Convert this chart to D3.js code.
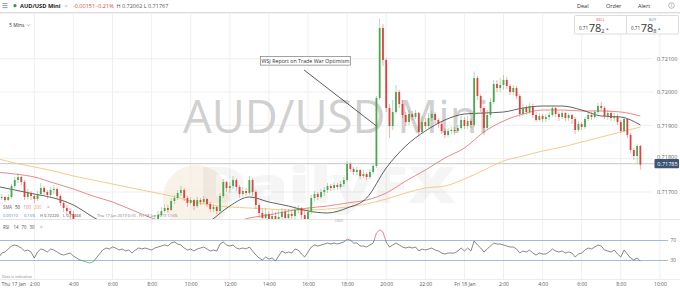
<!DOCTYPE html>
<html><head><meta charset="utf-8">
<script src="https://cdn.jsdelivr.net/npm/d3@7"></script>
<style>
html,body{margin:0;padding:0;background:#fff;overflow:hidden;}
svg{display:block;font-family:"Open Sans",sans-serif;}
</style></head><body>
<svg id="c" width="680" height="288"></svg>
<script>
// ---------- DATA ----------
// AUD/USD Mini, 10-minute candles from Thu 17 Jan 2019 00:10 (prices in 1/100000)
const priceUnit = 1e-5;
const candleStart = "2019-01-17T00:10";
const stepMinutes = 10;
const firstOpen = 71679;
const closes = [
71682,71685,71676,71685,71718,71736,71745,71730,71685,71697,
71688,71679,71694,71712,71700,71691,71706,71709,71688,71667,
71652,71643,71634,71610,71586,71562,71541,71520,71490,71502,
71526,71544,71556,71568,71562,71577,71568,71556,71565,71550,
71559,71553,71568,71577,71571,71586,71592,71604,71619,71631,
71643,71652,71646,71673,71682,71697,71706,71682,71667,71676,
71658,71676,71670,71679,71664,71649,71655,71643,71688,71730,
71712,71718,71736,71715,71694,71703,71697,71736,71700,71661,
71637,71622,71634,71616,71628,71613,71625,71640,71622,71634,
71628,71646,71652,71631,71619,71640,71682,71694,71685,71700,
71706,71718,71712,71721,71715,71724,71736,71784,71769,71760,
71766,71748,71754,71745,71760,71778,71982,72192,72096,71952,
71898,71940,72000,71964,71931,71910,71934,71925,71937,71880,
71910,71898,71922,71934,71916,71904,71883,71871,71883,71886,
71883,71892,71916,71898,71913,71901,72042,71988,71952,71892,
71931,71970,72024,72012,72021,72036,72018,72000,72012,71988,
71934,71952,71940,71958,71931,71916,71928,71919,71925,71931,
71952,71934,71925,71937,71922,71931,71919,71886,71904,71895,
71919,71931,71925,71940,71958,71952,71928,71937,71922,71928,
71910,71883,71919,71871,71826,71808,71838,71782];
const highs = [
71691,71694,71688,71694,71724,71745,71757,71748,71736,71709,
71703,71694,71703,71727,71718,71706,71715,71721,71712,71694,
71673,71661,71652,71643,71616,71592,71571,71550,71526,71511,
71535,71556,71568,71583,71580,71589,71586,71577,71580,71571,
71568,71571,71580,71589,71586,71598,71604,71616,71631,71643,
71655,71664,71661,71682,71691,71706,71718,71712,71688,71685,
71679,71685,71682,71688,71682,71670,71664,71658,71697,71739,
71733,71730,71748,71742,71721,71715,71712,71748,71742,71706,
71667,71649,71652,71643,71646,71640,71646,71652,71649,71649,
71646,71658,71661,71655,71643,71652,71691,71703,71700,71709,
71715,71727,71724,71730,71727,71733,71745,71793,71790,71775,
71775,71769,71766,71760,71769,71784,71988,72220,72204,72102,
71964,71976,72021,72006,71976,71940,71946,71943,71946,71940,
71928,71922,71937,71943,71940,71922,71910,71892,71892,71895,
71895,71901,71928,71925,71928,71919,72062,72048,71994,71958,
71946,71982,72036,72036,72042,72051,72045,72024,72021,72018,
71994,71964,71961,71967,71964,71940,71937,71934,71934,71940,
71958,71955,71940,71943,71940,71937,71934,71925,71913,71910,
71925,71940,71940,71946,71967,71970,71958,71946,71943,71937,
71934,71916,71928,71922,71877,71832,71844,71841];
const lows = [
71673,71676,71670,71673,71679,71712,71727,71721,71676,71679,
71676,71667,71673,71688,71691,71679,71685,71694,71679,71658,
71640,71631,71619,71598,71574,71550,71526,71502,71478,71468,
71490,71517,71535,71550,71550,71556,71556,71547,71550,71541,
71538,71544,71547,71562,71559,71565,71577,71586,71598,71613,
71628,71637,71637,71643,71664,71676,71688,71673,71655,71661,
71646,71652,71661,71664,71655,71640,71640,71634,71637,71682,
71700,71697,71709,71703,71682,71685,71688,71691,71688,71649,
71622,71604,71610,71601,71604,71598,71604,71616,71610,71613,
71613,71619,71634,71619,71607,71610,71634,71673,71676,71679,
71688,71697,71703,71706,71706,71709,71715,71730,71760,71751,
71751,71739,71742,71736,71739,71754,71772,71976,72078,71940,
71862,71886,71934,71952,71922,71898,71901,71916,71919,71868,
71874,71889,71892,71913,71904,71892,71874,71862,71865,71874,
71871,71877,71886,71889,71889,71892,71895,71976,71940,71871,
71886,71922,71964,72000,72000,72006,72009,71991,71991,71979,
71925,71928,71931,71934,71922,71910,71913,71910,71910,71916,
71925,71925,71913,71919,71913,71913,71904,71874,71880,71886,
71889,71913,71916,71919,71934,71943,71919,71916,71913,71913,
71901,71877,71877,71862,71817,71796,71784,71767];
// RSI(14), one value per candle
const rsi = [
35,45,47,53,59,61,59,55,49,51,
47,35,47,53,51,47,53,51,47,43,
41,43,45,39,35,31,29,27,25,27,
35,43,51,55,53,57,55,51,53,49,
51,45,51,55,53,55,53,51,55,57,
59,61,59,65,67,63,61,55,51,53,
49,53,55,57,53,49,51,49,63,67,
61,59,61,55,53,55,53,57,49,41,
35,31,37,33,35,29,39,49,45,47,
45,53,51,43,37,47,57,61,59,61,
63,65,63,65,63,65,67,73,71,65,
65,59,59,57,61,65,85,91,87,67,
57,61,65,61,57,55,57,55,57,49,
53,51,53,55,51,49,45,43,45,45,
45,49,55,49,55,49,69,61,55,47,
53,59,65,63,63,61,59,57,57,53,
45,49,47,51,45,41,45,43,43,47,
53,49,47,49,45,47,45,37,43,45,
51,55,53,57,61,59,51,49,47,51,
43,37,51,43,35,31,35,29];
// Simple moving averages, hourly samples from Thu 00:00
const maStart = "2019-01-17T00:00";
const sma50 = [71718,71706,71694,71682,71661,71625,71592,71562,71550,71556,71577,71613,71658,71685,71670,71658,71643,71637,71652,71682,71772,71838,71883,71916,71934,71937,71940,71952,71958,71958,71946,71928,71925,71901];
const sma100 = [71760,71754,71745,71727,71709,71688,71670,71646,71622,71601,71586,71589,71604,71622,71631,71643,71652,71658,71667,71676,71697,71733,71766,71802,71832,71880,71913,71934,71946,71946,71943,71943,71940,71928];
const sma200 = [71802,71787,71775,71763,71748,71736,71724,71712,71700,71688,71673,71661,71655,71652,71649,71646,71646,71649,71655,71664,71679,71697,71712,71718,71739,71766,71793,71808,71823,71835,71850,71865,71880,71895];
const priceTicks = [0.721, 0.720, 0.719, 0.718, 0.717];
const rsiLevels = [70, 30];
const timeTickLabels = ["Thu 17 Jan","2:00","4:00","6:00","8:00","10:00","12:00","14:00","16:00","18:00","20:00","22:00","Fri 18 Jan","2:00","4:00","6:00","8:00","10:00"];
const lastPrice = 0.71785;
const annotation = {text:"WSJ Report on Trade War Optimism", from:{t:"2019-01-17T15:48", p:0.72066}, to:{t:"2019-01-17T19:30", p:0.71898}};

// ---------- SETUP ----------
const svg = d3.select("#c");
const parse = d3.utcParse("%Y-%m-%dT%H:%M");
const tStart = parse("2019-01-17T00:00"), tEnd = parse("2019-01-18T10:00");
const x = d3.scaleUtc().domain([tStart, tEnd]).range([-4.8, 659.9]);
const y = d3.scaleLinear().domain([0.717, 0.721]).range([192, 58.67]);
const ry = d3.scaleLinear().domain([30, 70]).range([260.5, 240.5]);
const plotR = 653, mainTop = 13, mainBot = 219, rsiTop = 221, rsiBot = 279;

const cs = parse(candleStart);
const candles = closes.map((c, i) => ({
  t: d3.utcMinute.offset(cs, i * stepMinutes),
  o: (i === 0 ? firstOpen : closes[i-1]) * priceUnit,
  h: highs[i] * priceUnit, l: lows[i] * priceUnit, c: c * priceUnit, r: rsi[i]
}));
const ms = parse(maStart);
const maSeries = [
  {vals: sma200, color: "#f3c57c", w: 0.9},
  {vals: sma100, color: "#e77a80", w: 0.9},
  {vals: sma50, color: "#3a3a3a", w: 0.8}
];

const defs = svg.append("defs");
defs.append("clipPath").attr("id","mainClip").append("rect").attr("x",0).attr("y",mainTop).attr("width",plotR).attr("height",mainBot-mainTop);
defs.append("clipPath").attr("id","rsiAbove").append("rect").attr("x",0).attr("y",rsiTop).attr("width",plotR).attr("height",ry(70)-rsiTop);
defs.append("clipPath").attr("id","rsiMid").append("rect").attr("x",0).attr("y",ry(70)).attr("width",plotR).attr("height",ry(30)-ry(70));
defs.append("clipPath").attr("id","rsiBelow").append("rect").attr("x",0).attr("y",ry(30)).attr("width",plotR).attr("height",rsiBot-ry(30));

// ---------- GRID ----------
const timeTicks = d3.utcHour.every(2).range(tStart, d3.utcMinute.offset(tEnd, 1));
const grid = svg.append("g");
grid.selectAll("line.v").data(timeTicks.slice(1)).join("line").attr("class","v")
  .attr("x1", d => x(d)).attr("x2", d => x(d)).attr("y1", mainTop).attr("y2", rsiBot)
  .attr("stroke", "#efefef").attr("stroke-width", 1);
grid.selectAll("line.h").data(priceTicks).join("line").attr("class","h")
  .attr("x1", 0).attr("x2", plotR).attr("y1", d => y(d)).attr("y2", d => y(d))
  .attr("stroke", "#efefef").attr("stroke-width", 1);

// ---------- WATERMARKS ----------
const wm = svg.append("g").attr("clip-path","url(#mainClip)");
wm.append("circle").attr("cx",196).attr("cy",198).attr("r",33).attr("fill","#f7eddf").attr("opacity",0.7);
wm.append("text").attr("x",198).attr("y",203).attr("font-size",50).attr("font-weight",900)
  .attr("textLength",258).attr("lengthAdjust","spacingAndGlyphs")
  .attr("fill","#000").attr("opacity",0.035).text("DailyFX");
svg.append("text").attr("x",183).attr("y",133).attr("font-size",46).attr("fill","#d0d0d0")
  .attr("textLength",306).attr("lengthAdjust","spacingAndGlyphs")
  .text("AUD/USD Mini");

// ---------- LAST PRICE LINE ----------
svg.append("line").attr("x1",0).attr("x2",plotR+2).attr("y1",y(lastPrice)).attr("y2",y(lastPrice))
  .attr("stroke","#d2d2d2").attr("stroke-width",1.4);

// ---------- MOVING AVERAGES ----------
const main = svg.append("g").attr("clip-path","url(#mainClip)");
const maLine = d3.line().x((d,i) => x(d3.utcHour.offset(ms, i))).y(d => y(d * priceUnit)).curve(d3.curveMonotoneX);
maSeries.forEach(s => {
  main.append("path").attr("d", maLine(s.vals)).attr("fill","none")
    .attr("stroke", s.color).attr("stroke-width", s.w);
});

// ---------- CANDLES ----------
const up = "#47a94b", dn = "#e2413b";
const cg = main.append("g");
cg.selectAll("line").data(candles).join("line")
  .attr("x1", d => x(d.t)).attr("x2", d => x(d.t))
  .attr("y1", d => y(d.h)).attr("y2", d => y(d.l))
  .attr("stroke", d => d.c >= d.o ? up : dn).attr("stroke-width", 0.6).attr("opacity",0.7);
cg.selectAll("rect").data(candles).join("rect")
  .attr("x", d => x(d.t) - 0.9).attr("width", 1.8)
  .attr("y", d => y(Math.max(d.o, d.c)))
  .attr("height", d => Math.max(0.8, Math.abs(y(d.o) - y(d.c))))
  .attr("fill", d => d.c >= d.o ? up : dn);

// ---------- ANNOTATION ----------
const a0 = {x: x(parse(annotation.from.t)), y: y(annotation.from.p)};
const a1 = {x: x(parse(annotation.to.t)), y: y(annotation.to.p)};
const ann = svg.append("g");
ann.append("line").attr("x1",a0.x).attr("y1",a0.y).attr("x2",a1.x).attr("y2",a1.y)
  .attr("stroke","#333").attr("stroke-width",0.8);
const annBox = ann.append("rect");
const at = ann.append("text").attr("x",a0.x-42.5).attr("y",a0.y-7.2).attr("font-size",5.3).attr("fill","#333").text(annotation.text);
const bb = at.node().getBBox();
annBox.attr("x",bb.x-1.2).attr("y",bb.y-0.3).attr("width",bb.width+2.4).attr("height",bb.height+0.6)
  .attr("fill","#fff").attr("stroke","#666").attr("stroke-width",0.6);

// ---------- PRICE AXIS ----------
const pAxis = svg.append("g").attr("transform",`translate(${plotR+4},0)`)
  .call(d3.axisRight(y).tickValues(priceTicks).tickFormat(d3.format(".5f")).tickSize(0).tickPadding(0));
pAxis.select(".domain").remove();
pAxis.selectAll("text").attr("font-size",5.5).attr("fill","#666").attr("font-family","'Open Sans',sans-serif");
// the 0.71800 label sits partly hidden behind the last-price tag, as in the original
pAxis.selectAll("g.tick").filter(d => Math.abs(d - 0.718) < 1e-9).select("text").attr("dy","-0.05em");
const tag = svg.append("g").attr("transform",`translate(${plotR+1.5},${y(lastPrice)})`);
tag.append("rect").attr("x",0).attr("y",-4.6).attr("width",24.5).attr("height",9.2).attr("fill","#3d5473").attr("rx",0.8);
tag.append("text").attr("x",2.8).attr("y",2).attr("font-size",5.5).attr("fill","#fff").text(d3.format(".5f")(lastPrice));

// ---------- PANEL SEPARATORS ----------
svg.append("line").attr("x1",0).attr("x2",680).attr("y1",mainBot+0.5).attr("y2",mainBot+0.5).attr("stroke","#e4e4e4").attr("stroke-width",1.2);
svg.append("line").attr("x1",0).attr("x2",680).attr("y1",rsiBot+0.5).attr("y2",rsiBot+0.5).attr("stroke","#ececec").attr("stroke-width",1);
svg.append("text").attr("x",339).attr("y",222).attr("text-anchor","middle").attr("font-size",4).attr("fill","#aaa").text("CMD");

// ---------- LEGENDS ----------
const lg1 = svg.append("g").attr("font-size",4.4);
[["SMA",3,"#666"],["50",15,"#333"],["100",23.5,"#e77a80"],["200",34,"#e8b060"],["×",47,"#888"]].forEach(([t,px,c]) =>
  lg1.append("text").attr("x",px).attr("y",208.5).attr("fill",c).text(t));
const lg2 = svg.append("g").attr("font-size",4);
lg2.append("text").attr("x",3).attr("y",217).attr("fill","#4f7fb8").text("0.00110");
lg2.append("text").attr("x",24).attr("y",217).attr("fill","#4f7fb8").text("0.15%");
lg2.append("text").attr("x",40).attr("y",217).attr("fill","#444").text("H 0.72220");
lg2.append("text").attr("x",63).attr("y",217).attr("fill","#444").text("L 0.71468");
lg2.append("text").attr("x",97).attr("y",217).attr("fill","#777").text("Thu 17 Jan 2019 0:10 - Fri 18 Jan 2019 11:05");

const lg3 = svg.append("g").attr("font-size",4.4).attr("fill","#555");
lg3.append("text").attr("x",3).attr("y",228.5).text("RSI");
lg3.append("text").attr("x",13.5).attr("y",228.5).text("14");
lg3.append("text").attr("x",21.5).attr("y",228.5).text("70");
lg3.append("text").attr("x",29.5).attr("y",228.5).text("30");
lg3.append("text").attr("x",40).attr("y",228.5).attr("fill","#888").text("×");

// ---------- RSI ----------
const rs = svg.append("g");
rs.selectAll("line").data(rsiLevels).join("line")
  .attr("x1",0).attr("x2",668).attr("y1",d => ry(d)).attr("y2",d => ry(d))
  .attr("stroke","#8da8cc").attr("stroke-width",0.8);
rs.selectAll("text").data(rsiLevels).join("text")
  .attr("x",670.5).attr("y",d => ry(d)+1.8).attr("font-size",4.8).attr("fill","#666").text(d => d);
const rLine = d3.line().x(d => x(d.t)).y(d => ry(d.r));
[["rsiMid","#555"],["rsiAbove","#e0505a"],["rsiBelow","#3aa845"]].forEach(([clip,col]) => {
  rs.append("path").attr("d", rLine(candles)).attr("fill","none").attr("stroke",col)
    .attr("stroke-width",0.7).attr("clip-path",`url(#${clip})`);
});
svg.append("text").attr("x",2).attr("y",277.5).attr("font-size",3.8).attr("fill","#888").text("Data is indicative");

// ---------- TIME AXIS ----------
const tAxis = svg.append("g").attr("transform",`translate(0,${rsiBot})`)
  .call(d3.axisBottom(x).tickValues(timeTicks).tickFormat((d,i) => timeTickLabels[i]).tickSize(0).tickPadding(3));
tAxis.select(".domain").remove();
tAxis.selectAll("text").attr("font-size",5).attr("fill","#555").attr("font-family","'Open Sans',sans-serif");
tAxis.selectAll("g.tick").filter((d,i) => i === 0).select("text").attr("text-anchor","start").attr("x",1 - x(tStart));

// ---------- HEADER ----------
const hd = svg.append("g").attr("font-size",5.5);
[3.6,5.6,7.6].forEach(v => hd.append("line").attr("x1",2.5).attr("x2",7.5).attr("y1",v).attr("y2",v).attr("stroke","#555").attr("stroke-width",0.6));
hd.append("circle").attr("cx",15).attr("cy",5.7).attr("r",1.6).attr("fill","#2f9a49");
hd.append("text").attr("x",20).attr("y",7.8).attr("font-weight",700).attr("font-size",5.7).attr("fill","#222").text("AUD/USD Mini");
hd.append("path").attr("d","M64.6,5 L66.2,6.6 L67.8,5").attr("fill","none").attr("stroke","#777").attr("stroke-width",0.5);
hd.append("text").attr("x",73).attr("y",7.8).attr("fill","#e0443e").text("-0.00151");
hd.append("text").attr("x",96.5).attr("y",7.8).attr("fill","#e0443e").text("-0.21%");
hd.append("text").attr("x",116.5).attr("y",7.8).attr("fill","#555").text("H 0.72062 L 0.71767");
hd.append("text").attr("x",577).attr("y",7.8).attr("fill","#333").text("Deal");
hd.append("text").attr("x",606).attr("y",7.8).attr("fill","#333").text("Order");
hd.append("text").attr("x",638).attr("y",7.8).attr("fill","#333").text("Alert");
hd.append("circle").attr("cx",671.5).attr("cy",5.5).attr("r",2.8).attr("fill","none").attr("stroke","#777").attr("stroke-width",0.5);
hd.append("text").attr("x",671.5).attr("y",7.3).attr("text-anchor","middle").attr("font-size",4.5).attr("fill","#777").text("i");
svg.append("line").attr("x1",0).attr("x2",680).attr("y1",12.5).attr("y2",12.5).attr("stroke","#dcdcdc").attr("stroke-width",1);
svg.append("line").attr("x1",0).attr("x2",680).attr("y1",13.5).attr("y2",13.5).attr("stroke","#f2f2f2").attr("stroke-width",1);

svg.append("text").attr("x",9).attr("y",26.5).attr("font-size",5).attr("fill","#333").text("5 Mins");
svg.append("path").attr("d","M27,24.3 L28.5,25.8 L30,24.3").attr("fill","none").attr("stroke","#666").attr("stroke-width",0.5);

// ---------- SELL / BUY ----------
const q = svg.append("g");
q.append("rect").attr("x",574.5).attr("y",15.5).attr("width",104).attr("height",18.5).attr("fill","#fff").attr("stroke","#d4d4d4").attr("stroke-width",0.8).attr("rx",1);
q.append("line").attr("x1",626.5).attr("x2",626.5).attr("y1",15.5).attr("y2",34).attr("stroke","#d4d4d4").attr("stroke-width",0.8);
[{cx:600.5,label:"SELL",lc:"#e0443e",last:"2",x0:579},{cx:652.5,label:"BUY",lc:"#5b8fd3",last:"8",x0:631}].forEach(b => {
  q.append("text").attr("x",b.cx).attr("y",20.6).attr("text-anchor","middle").attr("font-size",3.9).attr("fill",b.lc).text(b.label);
  const t = q.append("text").attr("x",b.x0).attr("y",32.2).attr("fill","#333");
  t.append("tspan").attr("font-size",4.6).attr("dy",-2.4).text("0.71");
  t.append("tspan").attr("font-size",11).attr("dy",2.4).attr("dx",0.6).text("78");
  t.append("tspan").attr("font-size",5.6).attr("dy",0.4).text(b.last);
  t.append("tspan").attr("font-size",4).attr("dy",-2.8).attr("dx",0.8).attr("fill","#5b8fd3").text("▲");
});
</script>
</body></html>
